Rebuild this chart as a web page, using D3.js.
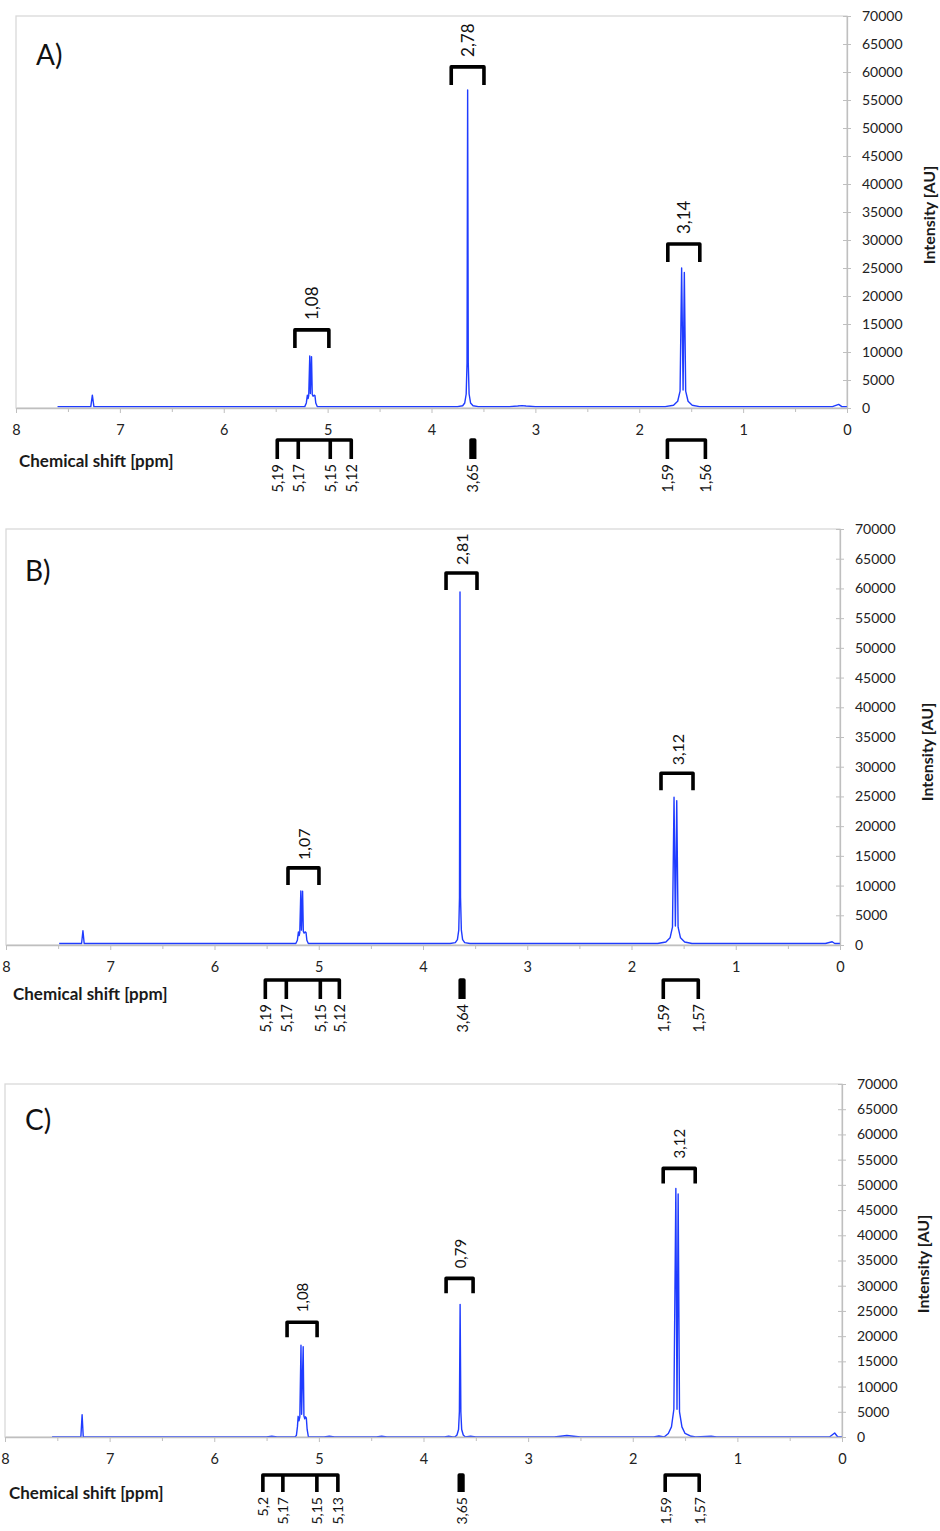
<!DOCTYPE html>
<html>
<head>
<meta charset="utf-8">
<script src="https://cdn.jsdelivr.net/npm/d3@7"></script>
<style>
  body { margin: 0; background: #fff; }
  svg { display: block; font-family: Lato, "Open Sans", "Liberation Sans", sans-serif; }
</style>
</head>
<body>
<svg id="fig" width="940" height="1531"></svg>
<script>
// ---- axis ticks (ppm and intensity) ----
const xTickValues = [8, 7, 6, 5, 4, 3, 2, 1, 0];
const xMinorTickValues = [7.5, 6.5, 5.5, 4.5, 3.5, 2.5, 1.5, 0.5];
const yTickValues = [0, 5000, 10000, 15000, 20000, 25000, 30000, 35000,
                     40000, 45000, 50000, 55000, 60000, 65000, 70000];

// ---- 1H NMR traces: [chemical shift (ppm), intensity (AU)] ----
const spectrumA = [
  [7.60, 250], [7.28, 250], [7.265, 2300], [7.25, 250],
  [6.50, 250], [5.60, 250], [5.22, 250], [5.205, 900], [5.195, 2300], [5.188, 1700],
  [5.182, 2200], [5.172, 9300], [5.166, 2600], [5.155, 9150], [5.148, 2400],
  [5.14, 2100], [5.13, 2300], [5.122, 2200], [5.114, 900], [5.10, 250],
  [4.50, 250], [3.75, 250], [3.70, 400], [3.68, 900], [3.666, 2500], [3.658, 8000],
  [3.652, 56800], [3.646, 8000], [3.638, 2500], [3.624, 900], [3.60, 400], [3.55, 250],
  [3.25, 250], [3.17, 350], [3.13, 420], [3.09, 350], [3.00, 250],
  [1.75, 250], [1.67, 500], [1.63, 1200], [1.607, 3000], [1.592, 25000], [1.578, 3200],
  [1.566, 24200], [1.553, 3000], [1.53, 1200], [1.49, 500], [1.42, 250],
  [0.14, 250], [0.08, 650], [0.05, 250], [0.0, 250]
];

const spectrumB = [
  [7.49, 250], [7.275, 250], [7.262, 2400], [7.25, 250],
  [6.50, 250], [5.60, 250], [5.22, 250], [5.205, 800], [5.195, 2200], [5.188, 1600],
  [5.182, 2100], [5.172, 9100], [5.166, 2500], [5.155, 9050], [5.148, 2300],
  [5.14, 2000], [5.13, 2200], [5.122, 2100], [5.114, 800], [5.10, 250],
  [4.50, 250], [3.74, 250], [3.69, 400], [3.67, 900], [3.657, 2500], [3.65, 8000],
  [3.645, 59400], [3.64, 8000], [3.632, 2500], [3.62, 900], [3.60, 400], [3.55, 250],
  [1.75, 250], [1.67, 500], [1.63, 1200], [1.607, 3000], [1.592, 24850], [1.579, 3200],
  [1.566, 24300], [1.553, 3000], [1.53, 1200], [1.49, 500], [1.42, 250],
  [0.14, 250], [0.075, 550], [0.05, 250], [0.0, 250]
];

const spectrumC = [
  [7.55, 0], [7.275, 0], [7.263, 4400], [7.252, 0],
  [5.50, 0], [5.45, 150], [5.40, 0],
  [5.23, 0], [5.215, 300], [5.205, 2000], [5.198, 4100], [5.19, 3200], [5.182, 4000],
  [5.171, 18200], [5.165, 4500], [5.15, 17900], [5.143, 4200], [5.135, 3600],
  [5.128, 4000], [5.12, 3800], [5.112, 1500], [5.10, 0],
  [4.95, 0], [4.90, 150], [4.85, 0], [4.45, 0], [4.40, 150], [4.35, 0],
  [3.80, 0], [3.76, 150], [3.72, 0],
  [3.70, 0], [3.68, 400], [3.665, 1500], [3.657, 5000], [3.65, 26300], [3.643, 5000],
  [3.635, 1500], [3.62, 400], [3.60, 0], [3.55, 150], [3.50, 0],
  [2.75, 0], [2.63, 300], [2.50, 0],
  [1.80, 0], [1.75, 200], [1.70, 0], [1.66, 700], [1.63, 2000], [1.607, 5500],
  [1.588, 49300], [1.577, 5500], [1.566, 48200], [1.553, 5000], [1.53, 2000],
  [1.50, 700], [1.45, 200], [1.40, 0], [1.25, 150], [1.20, 0],
  [0.12, 0], [0.07, 800], [0.04, 0], [0.0, 0]
];

// ---- integration regions [from ppm, to ppm] and integral values ----
const integralRangesA = [[5.315, 4.988], [3.81, 3.495], [1.725, 1.417]];
const integralLabelsA = ["1,08", "2,78", "3,14"];
const integralRangesB = [[5.295, 4.998], [3.779, 3.482], [1.717, 1.41]];
const integralLabelsB = ["1,07", "2,81", "3,12"];
const integralRangesC = [[5.304, 5.017], [3.784, 3.526], [1.709, 1.403]];
const integralLabelsC = ["1,08", "0,79", "3,12"];

// ---- picked peak shifts (ppm), grouped by multiplet ----
const shiftsA = [[5.19, 5.17, 5.15, 5.12], [3.65], [1.59, 1.56]];
const shiftsB = [[5.19, 5.17, 5.15, 5.12], [3.64], [1.59, 1.57]];
const shiftsC = [[5.2, 5.17, 5.15, 5.13], [3.65], [1.59, 1.57]];

// ---- panel layout ----
const panels = [
  { letter: "A)", spectrum: spectrumA, ranges: integralRangesA, integrals: integralLabelsA, shifts: shiftsA,
    box: { l: 16, r: 847, t: 16, b: 408 }, letterPos: [36, 65], titlePos: [19, 460], yTitlePos: [928, 215],
    bracketGap: [8, 5, 6], bracketH: 18, intFont: 17, intGap: 10,
    legOffsets: [[-34, -13, 19, 40], [5], [-16, 22]], barDy: 32, legDy: 51, shiftFont: 14.5 },
  { letter: "B)", spectrum: spectrumB, ranges: integralRangesB, integrals: integralLabelsB, shifts: shiftsB,
    box: { l: 6, r: 840, t: 529, b: 945 }, letterPos: [25, 581], titlePos: [13, 993], yTitlePos: [926, 752],
    bracketGap: [6, 2, 7], bracketH: 17, intFont: 16, intGap: 8,
    legOffsets: [[-37, -16, 18, 37], [1.5], [-12, 23]], barDy: 35, legDy: 54, shiftFont: 14.5 },
  { letter: "C)", spectrum: spectrumC, ranges: integralRangesC, integrals: integralLabelsC, shifts: shiftsC,
    box: { l: 5, r: 842, t: 1084, b: 1437 }, letterPos: [25, 1130], titlePos: [9, 1492], yTitlePos: [922, 1264],
    bracketGap: [8, 11, 5], bracketH: 15, intFont: 15, intGap: 10,
    legOffsets: [[-39, -19, 15, 36], [1], [-11.5, 22.5]], barDy: 38, legDy: 55, shiftFont: 14 }
];

const svg = d3.select("#fig");
const TRACE = "#1f3cff";
const AXIS = "#bfbfbf";
const FRAME = "#d9d9d9";
const TEXT = "#222";
const fmtShift = v => String(v).replace(".", ",");

panels.forEach(p => {
  const g = svg.append("g");
  const x = d3.scaleLinear().domain([8, 0]).range([p.box.l, p.box.r]);
  const y = d3.scaleLinear().domain([0, 70000]).range([p.box.b, p.box.t]);

  // plot-area border
  g.append("rect")
    .attr("x", p.box.l).attr("y", p.box.t)
    .attr("width", p.box.r - p.box.l).attr("height", p.box.b - p.box.t)
    .attr("fill", "none").attr("stroke", FRAME).attr("stroke-width", 1.3);

  // spectrum trace
  g.append("path")
    .datum(p.spectrum)
    .attr("d", d3.line().x(d => x(d[0])).y(d => y(d[1])))
    .attr("fill", "none").attr("stroke", TRACE)
    .attr("stroke-width", 1.4).attr("stroke-linejoin", "round");

  // x axis (ppm), reversed
  const xa = g.append("g").attr("transform", `translate(0,${p.box.b})`)
    .call(d3.axisBottom(x).tickValues(xTickValues).tickFormat(d3.format("d"))
      .tickSize(5).tickPadding(12).tickSizeOuter(0));
  const xm = g.append("g").attr("transform", `translate(0,${p.box.b})`)
    .call(d3.axisBottom(x).tickValues(xMinorTickValues).tickFormat("")
      .tickSize(4).tickSizeOuter(0));
  xm.select(".domain").remove();

  // y axis (intensity) on the right
  const ya = g.append("g").attr("transform", `translate(${p.box.r},0)`)
    .call(d3.axisRight(y).tickValues(yTickValues).tickFormat(d3.format("d"))
      .tickSize(4).tickPadding(11).tickSizeOuter(0));
  ya.selectAll(".tick line").attr("x1", -4);

  [xa, xm, ya].forEach(a => {
    a.attr("font-family", null).attr("font-size", null);
    a.selectAll(".domain").attr("stroke", AXIS).attr("stroke-width", 1.3);
    a.selectAll(".tick line").attr("stroke", AXIS).attr("stroke-width", 1);
    a.selectAll(".tick text").attr("fill", TEXT).style("font-size", "14px");
  });
  xa.selectAll(".tick text").style("font-size", "14.5px");

  // panel letter
  g.append("text").attr("x", p.letterPos[0]).attr("y", p.letterPos[1])
    .attr("fill", "#111").style("font-size", "28px").text(p.letter);

  // axis titles
  g.append("text").attr("x", p.titlePos[0]).attr("y", p.titlePos[1])
    .attr("dominant-baseline", "central").attr("fill", "#1a1a1a")
    .style("font-size", "17px").style("font-weight", 700)
    .text("Chemical shift [ppm]");
  g.append("text")
    .attr("transform", `translate(${p.yTitlePos[0]},${p.yTitlePos[1]}) rotate(-90)`)
    .attr("text-anchor", "middle").attr("dominant-baseline", "central")
    .attr("fill", "#1a1a1a").style("font-size", "16px").style("font-weight", 700)
    .text("Intensity [AU]");

  // integration brackets above the peaks
  p.ranges.forEach((r, i) => {
    const inRange = p.spectrum.filter(d => d[0] <= r[0] && d[0] >= r[1]);
    const apex = d3.max(inRange, d => d[1]);
    const legBottom = y(apex) - p.bracketGap[i];
    const top = legBottom - p.bracketH;
    const xl = x(r[0]), xr = x(r[1]);
    g.append("path")
      .attr("d", `M${xl},${legBottom}V${top}H${xr}V${legBottom}`)
      .attr("fill", "none").attr("stroke", "#000").attr("stroke-width", 3.6)
      .attr("stroke-linejoin", "round");
    g.append("text")
      .attr("transform", `translate(${(xl + xr) / 2},${top - p.intGap}) rotate(-90)`)
      .attr("dominant-baseline", "central").attr("fill", "#111")
      .style("font-size", p.intFont + "px")
      .text(p.integrals[i]);
  });

  // picked-peak brackets below the axis
  const barY = p.box.b + p.barDy;
  const legY = p.box.b + p.legDy;
  p.shifts.forEach((grp, gi) => {
    const cx = x(d3.mean(grp));
    const legs = p.legOffsets[gi].map(o => cx + o);
    let d;
    if (legs.length === 1) {
      d = `M${legs[0] - 1.8},${legY}V${barY}H${legs[0] + 1.8}V${legY}`;
    } else {
      d = `M${legs[0]},${legY}V${barY}H${legs[legs.length - 1]}V${legY}`;
      legs.slice(1, -1).forEach(lx => { d += `M${lx},${barY}V${legY}`; });
    }
    g.append("path").attr("d", d)
      .attr("fill", "none").attr("stroke", "#000").attr("stroke-width", 3.6)
      .attr("stroke-linejoin", "round");
    grp.forEach((v, k) => {
      g.append("text")
        .attr("transform", `translate(${legs[k]},${legY + 5}) rotate(-90)`)
        .attr("text-anchor", "end").attr("dominant-baseline", "central")
        .attr("fill", "#111").style("font-size", p.shiftFont + "px")
        .text(fmtShift(v));
    });
  });
});
</script>
</body>
</html>
